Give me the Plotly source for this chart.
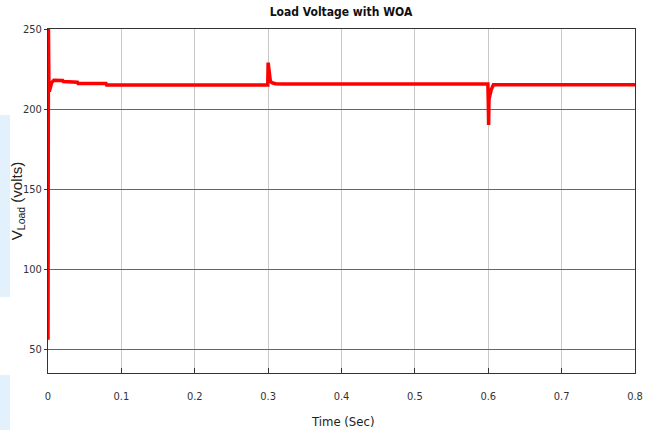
import plotly.graph_objects as go

time_s = [0.0, 0.0003, 0.0006, 0.0009, 0.0013, 0.0018, 0.003, 0.005, 0.008, 0.012, 0.02, 0.021,
          0.04, 0.041, 0.079, 0.08, 0.2995, 0.3, 0.3015, 0.303, 0.305, 0.308, 0.31, 0.32,
          0.5995, 0.6, 0.6005, 0.601, 0.6025, 0.604, 0.607, 0.7, 0.8]
v_load = [56, 150, 250, 240, 212, 211, 214, 216.5, 218, 218, 217.8, 217.2,
          216.8, 216.0, 216.0, 215.0, 215.0, 229, 220, 217.5, 216.5, 216.2, 215.8, 215.6,
          215.6, 205, 190, 206, 209, 212, 215.2, 215.2, 215.2]

x_ticks = [0, 0.1, 0.2, 0.3, 0.4, 0.5, 0.6, 0.7, 0.8]
x_tick_labels = ["0", "0.1", "0.2", "0.3", "0.4", "0.5", "0.6", "0.7", "0.8"]
y_ticks = [50, 100, 150, 200, 250]

font_family = "DejaVu Sans Condensed, Liberation Sans Narrow, Arial Narrow, Liberation Sans, sans-serif"

L, R, T, B = 48, 10, 29, 57
PW, PH = 645 - L - R, 430 - T - B
Y_RANGE = [35.2, 250]


def px_x(px):
    return (px - L) / PW


def px_y(py):
    return (430 - B - py) / PH


fig = go.Figure()
fig.add_trace(go.Scatter(x=time_s, y=v_load, mode="lines",
                         line=dict(color="#ff0000", width=3.5), showlegend=False))
# invisible companion trace that carries the title-only axis
fig.add_trace(go.Scatter(x=time_s, y=v_load, mode="lines", yaxis="y2",
                         line=dict(color="rgba(0,0,0,0)", width=0), showlegend=False, hoverinfo="skip"))

fig.update_layout(
    width=645, height=430,
    margin=dict(l=L, r=R, t=T, b=B, autoexpand=False),
    paper_bgcolor="white", plot_bgcolor="white",
    title=dict(text="<b>Load Voltage with WOA</b>", x=px_x(341), xanchor="center", xref="paper",
               y=1 - 8 / 430, yanchor="top",
               font=dict(family=font_family, size=12, color="#111")),
    font=dict(family=font_family, size=11, color="#333"),
    shapes=[
        dict(type="rect", xref="paper", yref="paper", x0=px_x(0), x1=px_x(10), y0=px_y(297), y1=px_y(115),
             fillcolor="#e2f1fb", line=dict(width=0), layer="below"),
        dict(type="rect", xref="paper", yref="paper", x0=px_x(0), x1=px_x(10), y0=px_y(430), y1=px_y(375),
             fillcolor="#e2f1fb", line=dict(width=0), layer="below"),
    ],
    annotations=[
        dict(text="Time (Sec)", xref="paper", yref="paper", x=px_x(343), y=px_y(421),
             xanchor="center", yanchor="middle", showarrow=False,
             font=dict(family=font_family, size=13, color="#222")),
    ],
    yaxis2=dict(overlaying="y", anchor="free", position=0, side="left", range=Y_RANGE,
                showticklabels=False, showgrid=False, zeroline=False, showline=False, ticks="",
                automargin=False,
                title=dict(text="V<sub>Load</sub> (volts)",
                           font=dict(family="Liberation Sans, Arial, sans-serif", size=15, color="#222"),
                           standoff=20)),
)
fig.update_xaxes(range=[0, 0.8], tickvals=x_ticks, ticktext=x_tick_labels, automargin=False,
                 showgrid=True, gridcolor="#c8c8c8", gridwidth=1,
                 showline=True, linecolor="#333", linewidth=1, mirror=True,
                 ticks="inside", ticklen=5, tickcolor="#333",
                 zeroline=False, ticklabelstandoff=13,
                 tickfont=dict(size=11, color="#333"))
fig.update_layout(yaxis=dict(range=Y_RANGE, tickvals=y_ticks, automargin=False,
                             showgrid=True, gridcolor="#666", gridwidth=1,
                             showline=True, linecolor="#333", linewidth=1, mirror=True,
                             ticks="outside", ticklen=3, tickcolor="#333",
                             zeroline=False,
                             tickfont=dict(size=11, color="#333")))

fig.write_html("out.html")
